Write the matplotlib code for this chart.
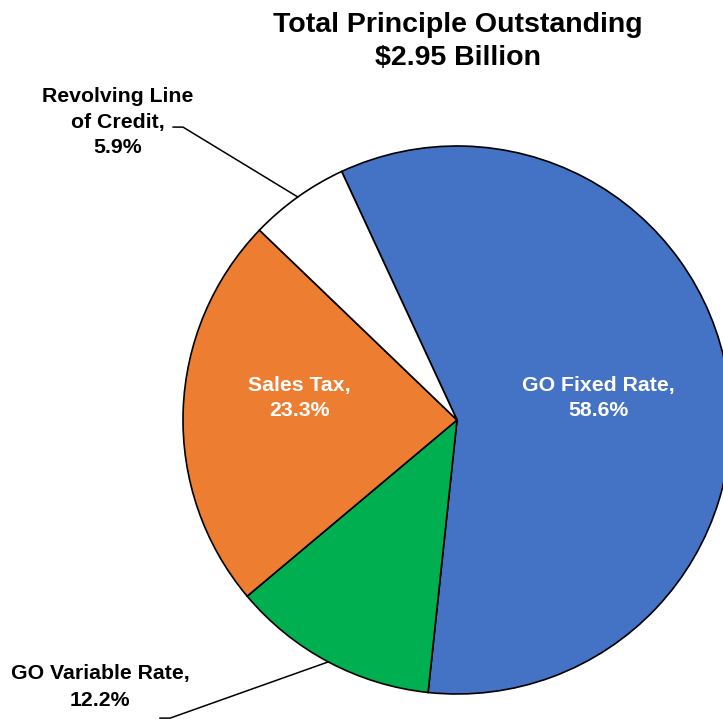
import numpy as np
import matplotlib
matplotlib.use("Agg")
import matplotlib.pyplot as plt

plt.rcParams['font.family'] = ['Liberation Sans', 'DejaVu Sans']

categories = ["GO Fixed Rate", "GO Variable Rate", "Sales Tax", "Revolving Line\nof Credit"]
shares = [58.6, 12.2, 23.3, 5.9]
colors = ["#4472C4", "#00B050", "#ED7D31", "#FFFFFF"]
title = "Total Principle Outstanding\n$2.95 Billion"

W, H = 723, 719
cx, cy, r = 457, 420, 274   # pie centre / radius in pixels

fig = plt.figure(figsize=(W / 100, H / 100), dpi=100)
ax = fig.add_axes([0, 0, 1, 1])

wedges, _ = ax.pie(shares, colors=colors, startangle=114.9, counterclock=False,
                   radius=1, center=(0, 0),
                   wedgeprops=dict(edgecolor="black", linewidth=1.2))
ax.set_aspect("auto")
ax.set_xlim(-cx / r, (W - cx) / r)
ax.set_ylim(-(H - cy) / r, cy / r)
ax.axis("off")

def mid(w):
    a = np.deg2rad((w.theta1 + w.theta2) / 2)
    return np.cos(a), np.sin(a)

fs = 15.3
ls = 1.42
# inside labels
for i, (xo, yo) in [(0, (0.515, 0.08)), (2, (-0.575, 0.08))]:
    ax.text(xo, yo, f"{categories[i]},\n{shares[i]:.1f}%", color="white",
            fontsize=fs, fontweight="bold", ha="center", va="center",
            linespacing=ls)

# Revolving line of credit, outside label
mx, my = mid(wedges[3])
ax.plot([mx, -1.0, -1.036], [my, 1.069, 1.069], color="black", lw=1.1)
ax.text(-1.237, 1.087, f"{categories[3]},\n{shares[3]:.1f}%", fontsize=fs,
        fontweight="bold", ha="center", va="center", linespacing=ls)

# GO variable rate, outside label
mx, my = mid(wedges[1])
ax.plot([mx, -1.047, -1.084], [my, -1.088, -1.088], color="black", lw=1.1,
        clip_on=False)
ax.text(-1.303, -0.975, f"{categories[1]},\n{shares[1]:.1f}%", fontsize=fs,
        fontweight="bold", ha="center", va="center", linespacing=1.55)

fig.text(458 / W, 1 - 41.5 / H, title, fontsize=20.5, fontweight="bold",
         ha="center", va="center", linespacing=1.3)

fig.savefig("out.png", dpi=100)
